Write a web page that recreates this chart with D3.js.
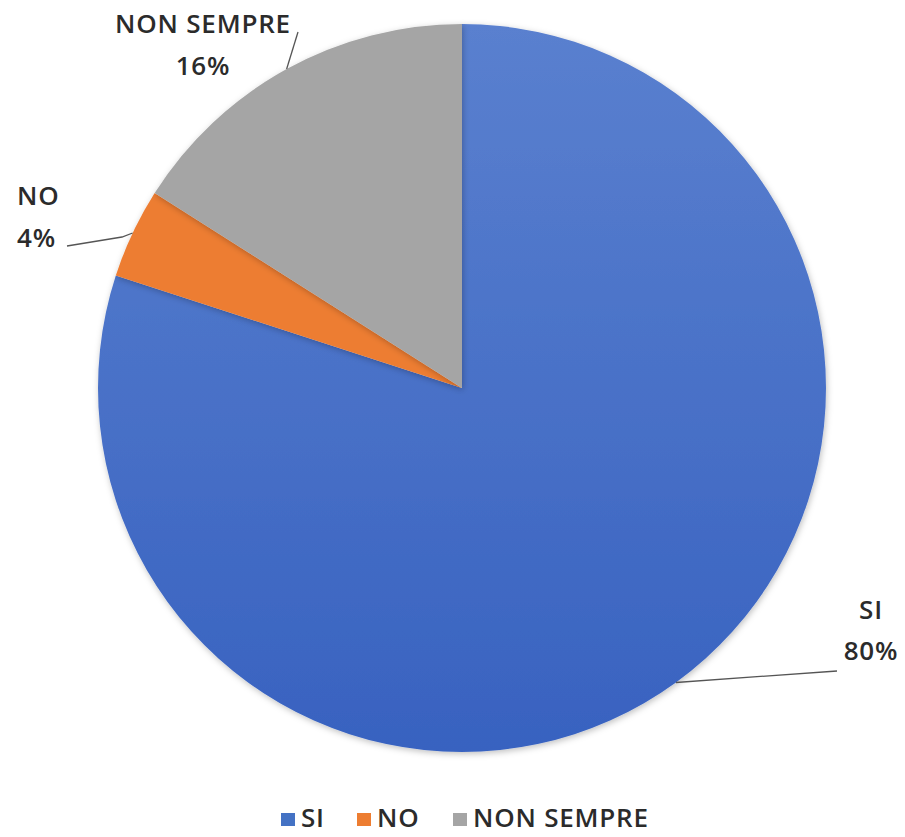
<!DOCTYPE html>
<html>
<head>
<meta charset="utf-8">
<script src="https://cdn.jsdelivr.net/npm/d3@7"></script>
<style>
  body { margin: 0; background: #fff; }
  text { font-family: "Open Sans", Lato, sans-serif; fill: #2b2b2b; font-weight: 600; letter-spacing: 0.8px; }
</style>
</head>
<body>
<div id="chart"></div>
<script>
// data
var categories = ["SI", "NO", "NON SEMPRE"];
var values = [80, 4, 16];
var colors = ["#4472c4", "#ed7d31", "#a5a5a5"];

var w = 905, h = 837;
var cx = 462, cy = 388, r = 364;

var svg = d3.select("#chart").append("svg")
    .attr("width", w)
    .attr("height", h);

var defs = svg.append("defs");
var grad = defs.append("linearGradient")
    .attr("id", "blueGrad")
    .attr("x1", 0).attr("y1", 0).attr("x2", 0).attr("y2", 1);
grad.append("stop").attr("offset", "0%").attr("stop-color", "#5a80cf");
grad.append("stop").attr("offset", "100%").attr("stop-color", "#3862c0");

var shadow = defs.append("filter").attr("id", "shadow")
    .attr("x", "-10%").attr("y", "-10%").attr("width", "120%").attr("height", "120%");
shadow.append("feDropShadow")
    .attr("dx", 1).attr("dy", 2).attr("stdDeviation", 3)
    .attr("flood-color", "#000").attr("flood-opacity", 0.25);

var pie = d3.pie().sort(null).value(d => d);
var arcs = pie(values);
var arc = d3.arc().innerRadius(0).outerRadius(r);

var g = svg.append("g").attr("transform", "translate(" + cx + "," + cy + ")");

g.selectAll("path")
  .data(arcs)
  .enter()
  .append("path")
  .attr("d", arc)
  .attr("fill", (d, i) => i === 0 ? "url(#blueGrad)" : colors[i])
  .attr("filter", "url(#shadow)");

// label placement
var labelPos = [
  { x: 871, y1: 619, y2: 660, anchor: "middle" },
  { x: 17, y1: 205, y2: 247, anchor: "start" },
  { x: 203, y1: 33, y2: 75, anchor: "middle" }
];
var leaderStart = [[837, 671], [67, 246], [298, 32]];
var leaderMid = [null, [122, 237], null];

var labels = svg.append("g");
arcs.forEach(function(d, i) {
  var p = labelPos[i];
  var t = labels.append("text")
      .attr("text-anchor", p.anchor)
      .style("font-size", "26px");
  t.append("tspan").attr("x", p.x).attr("y", p.y1).text(categories[i]);
  t.append("tspan").attr("x", p.x).attr("y", p.y2).text(values[i] + "%");

  // leader line ends on the slice's mid-angle at the rim
  var a = (d.startAngle + d.endAngle) / 2;
  var ex = cx + Math.sin(a) * r, ey = cy - Math.cos(a) * r;
  var pts = [leaderStart[i]];
  if (leaderMid[i]) pts.push(leaderMid[i]);
  pts.push([ex, ey]);
  labels.append("path")
      .attr("d", d3.line()(pts))
      .attr("fill", "none")
      .attr("stroke", "#555")
      .attr("stroke-width", 1.3);
});

// legend
var legendX = [281, 357, 453];
var legend = svg.append("g");
categories.forEach(function(c, i) {
  legend.append("rect")
      .attr("x", legendX[i]).attr("y", 813)
      .attr("width", 14).attr("height", 13)
      .attr("fill", colors[i]);
  legend.append("text")
      .attr("x", legendX[i] + 20).attr("y", 827)
      .style("font-size", "26px")
      .text(c);
});
</script>
</body>
</html>
